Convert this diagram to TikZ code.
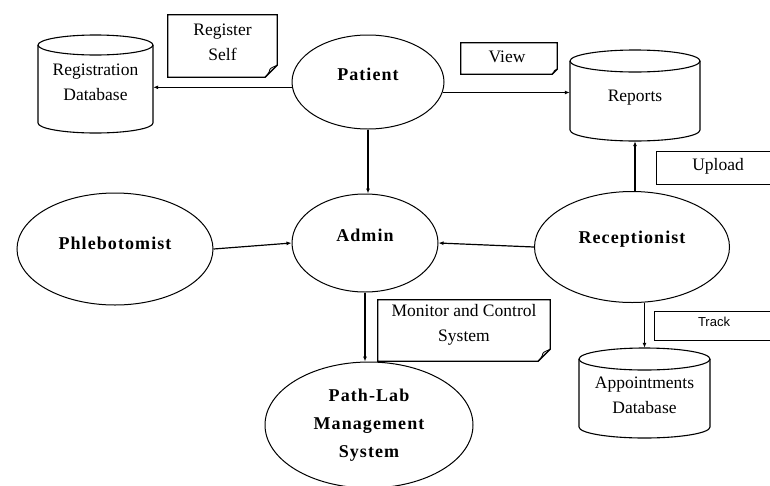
\documentclass[tikz,border=0pt]{standalone}
\usepackage{fontspec}
\setmainfont{Liberation Serif}
\newfontfamily\bfspaced[LetterSpace=6]{Liberation Serif}
\newfontfamily\sansfnt{Liberation Sans}
\usetikzlibrary{arrows.meta,shapes.geometric}
\newcommand\mynote[2]{%
  \draw[noteline] (#1.south west) -- (#1.north west) -- (#1.north east) -- ([yshift=#2pt]#1.south east) -- ([xshift=-#2pt]#1.south east) -- cycle;
  \draw[line width=0.8pt] ([xshift=-#2pt]#1.south east) .. controls ([xshift={-0.2*#2pt},yshift={0.9*#2pt}]#1.south east) and ([xshift={-1.1*#2pt},yshift={0.5*#2pt}]#1.south east) .. ([yshift=#2pt]#1.south east);
}
\begin{document}
\begin{tikzpicture}[x=1pt,y=-1pt,
  ell/.style={draw, ellipse, line width=1pt, inner sep=0pt},
  lbl/.style={font=\bfspaced\bfseries\fontsize{18}{28}\selectfont, align=center},
  txt/.style={font=\fontsize{17.5}{25}\selectfont, align=center, inner sep=0pt},
  arr/.style={line width=1.2pt, -{Latex[length=5pt,width=4pt]}},
  noteline/.style={line width=1.3pt, line join=miter},
  dbline/.style={line width=1.1pt},
  frame/.style={inner sep=0pt, draw=none},
]
\useasboundingbox[fill=white] (0,0) rectangle (770,485);

% ---------- ellipses ----------
\node[ell, minimum width=152pt, minimum height=94pt] (pat) at (368,82) {};
\node[lbl] (patT) at (368,74) {Patient};
\node[ell, minimum width=146pt, minimum height=98pt] (adm) at (365,243) {};
\node[lbl] (admT) at (365,235) {Admin};
\node[ell, minimum width=196pt, minimum height=112pt] (phl) at (115,249) {};
\node[lbl] (phlT) at (115,243) {Phlebotomist};
\node[ell, minimum width=195pt, minimum height=111pt] (rec) at (632,247) {};
\node[lbl] (recT) at (632,239) {Receptionist};
\node[ell, lbl, minimum width=208pt, minimum height=126pt] (pl) at (369,425)
  {Path-Lab\\Management\\System};

% ---------- databases ----------
\node[frame, minimum width=115pt, minimum height=98pt] (reg) at (95.5,84) {};
\draw[dbline] (95.5,45) ellipse[x radius=57.5, y radius=10];
\draw[dbline] (38,45) -- (38,123) arc[start angle=180, end angle=0, x radius=57.5, y radius=10] -- (153,45);
\node[txt] (regT) at (95.5,82.5) {Registration\\Database};

\node[frame, minimum width=130pt, minimum height=91pt] (rep) at (635,95.5) {};
\draw[dbline] (635,61) ellipse[x radius=65, y radius=11];
\draw[dbline] (570,61) -- (570,130) arc[start angle=180, end angle=0, x radius=65, y radius=11] -- (700,61);
\node[txt] (repT) at (635,98) {Reports};

\node[frame, minimum width=131pt, minimum height=90pt] (app) at (644.5,393) {};
\draw[dbline] (644.5,359) ellipse[x radius=65.5, y radius=11];
\draw[dbline] (579,359) -- (579,427) arc[start angle=180, end angle=0, x radius=65.5, y radius=11] -- (710,359);
\node[txt] (appT) at (644.5,395.5) {Appointments\\Database};

% ---------- notes ----------
\node[frame, minimum width=109pt, minimum height=62pt] (n1) at (222.5,46) {};
\mynote{n1}{12}
\node[txt] (n1T) at (222.5,42.5) {Register\\Self};

\node[frame, minimum width=96pt, minimum height=31pt] (n2) at (509,58.5) {};
\mynote{n2}{5}
\node[txt] (n2T) at (507,57) {View};

\node[frame, minimum width=172pt, minimum height=61pt] (n3) at (464,330.5) {};
\mynote{n3}{12}
\node[txt] (n3T) at (464,325) {Monitor and Control\\System};

\node[frame, minimum width=118pt, minimum height=32pt] (n4) at (716,168) {};
\draw[noteline] (n4.north east) -- (n4.north west) -- (n4.south west) -- (n4.south east);
\node[txt] (n4T) at (718,166) {Upload};

\node[frame, minimum width=120pt, minimum height=28pt] (n5) at (715,326) {};
\draw[noteline] (n5.north east) -- (n5.north west) -- (n5.south west) -- (n5.south east);
\node[inner sep=0pt, font=\sansfnt\fontsize{13}{15}\selectfont] (n5T) at (714,322) {Track};

% ---------- connectors ----------
\draw[arr] (pat.184) -- (pat.184 -| reg.east);
\draw[arr] (pat.-8) -- (pat.-8 -| rep.west);
\draw[arr] (pat.south) -- (pat.south |- adm.north);
\draw[arr] (phl.east) -- (adm.west);
\draw[arr] (rec.west) -- (adm.east);
\draw[arr] (rep.south |- rec.north) -- (rep.south);
\draw[arr] (adm.south) -- (adm.south |- pl.north);
\draw[arr] (app.north |- rec.south) -- (app.north);
\end{tikzpicture}
\end{document}
